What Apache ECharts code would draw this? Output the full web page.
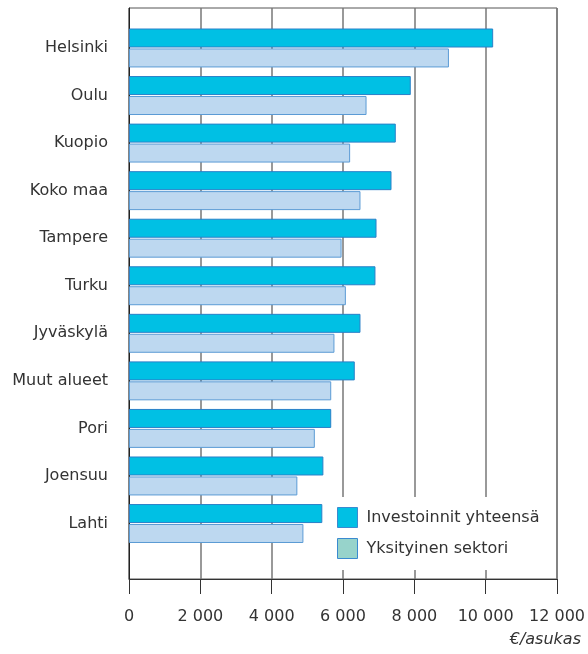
<!DOCTYPE html>
<html>
<head>
<meta charset="utf-8">
<script src="https://cdn.jsdelivr.net/npm/echarts@6/dist/echarts.min.js"></script>
<style>
  html, body { margin: 0; padding: 0; background: #fff; }
  #chart { width: 588px; height: 654px; }
</style>
</head>
<body>
<div id="chart"></div>
<script>
// alueet ylhäältä alas
const regions = ['Helsinki', 'Oulu', 'Kuopio', 'Koko maa', 'Tampere', 'Turku', 'Jyväskylä', 'Muut alueet', 'Pori', 'Joensuu', 'Lahti'];
const totalInvest = [10210, 7900, 7480, 7360, 6940, 6910, 6490, 6330, 5670, 5450, 5420];
const privateSector = [8970, 6660, 6200, 6490, 5960, 6080, 5760, 5670, 5210, 4720, 4890];
const xTicks = [0, 2000, 4000, 6000, 8000, 10000, 12000];

const font = '"DejaVu Sans", Verdana, sans-serif';
const fmt = v => String(v).replace(/\B(?=(\d{3})+(?!\d))/g, ' ');

const chart = echarts.init(document.getElementById('chart'));

const option = {
  animation: false,
  textStyle: { fontFamily: font },
  grid: [
    // kehys + asteikko
    { left: 129, right: 31, top: 8, bottom: 75, show: true, borderColor: '#555', borderWidth: 1 },
    // pylväät
    { left: 129, right: 31, top: 24.2, height: 523.1 }
  ],
  xAxis: [
    {
      gridIndex: 0, type: 'value', min: xTicks[0], max: xTicks[xTicks.length - 1], interval: 2000,
      axisLine: { show: true, lineStyle: { color: '#333', width: 1 } },
      axisTick: { show: true, length: 15, lineStyle: { color: '#333', width: 1 } },
      axisLabel: { fontSize: 16, color: '#333', margin: 30, fontFamily: font, formatter: fmt },
      splitLine: { show: true, lineStyle: { color: '#777', width: 1.5 } }
    },
    {
      gridIndex: 1, type: 'value', min: 0, max: 12000, show: false
    }
  ],
  yAxis: [
    {
      gridIndex: 0, type: 'value', min: 0, max: 1,
      axisLine: { show: true, lineStyle: { color: '#222', width: 1 } },
      axisTick: { show: false }, axisLabel: { show: false }, splitLine: { show: false }
    },
    {
      gridIndex: 1, type: 'category', inverse: true, data: regions,
      axisLine: { show: false }, axisTick: { show: false },
      axisLabel: { fontSize: 16, color: '#333', margin: 21, fontFamily: font }
    }
  ],
  legend: {
    orient: 'vertical',
    left: 327, top: 497,
    padding: [10, 10, 11, 10],
    backgroundColor: '#fff',
    itemWidth: 20, itemHeight: 20, itemGap: 10,
    icon: 'rect',
    textStyle: { fontSize: 16, color: '#333', fontFamily: font, padding: [0, 0, 0, 4] },
    data: [
      { name: 'Investoinnit yhteensä', itemStyle: { color: '#00c0e4', borderColor: '#3a8ad0', borderWidth: 1 } },
      { name: 'Yksityinen sektori', itemStyle: { color: '#97d3cb', borderColor: '#3a8ad0', borderWidth: 1 } }
    ]
  },
  series: [
    {
      name: 'Investoinnit yhteensä', type: 'bar', xAxisIndex: 1, yAxisIndex: 1,
      barWidth: 19, barGap: '5%',
      itemStyle: { color: '#00c0e4', borderColor: '#2a80c8', borderWidth: 1 },
      data: totalInvest
    },
    {
      name: 'Yksityinen sektori', type: 'bar', xAxisIndex: 1, yAxisIndex: 1,
      barWidth: 19, barGap: '5%',
      itemStyle: { color: '#bdd8f0', borderColor: '#5b9bd5', borderWidth: 1 },
      data: privateSector
    }
  ],
  graphic: [
    {
      type: 'text', right: 7, top: 632,
      style: { text: '€/asukas', font: 'italic 16px ' + font, fill: '#333', textAlign: 'right' }
    }
  ]
};

chart.setOption(option);
</script>
</body>
</html>
